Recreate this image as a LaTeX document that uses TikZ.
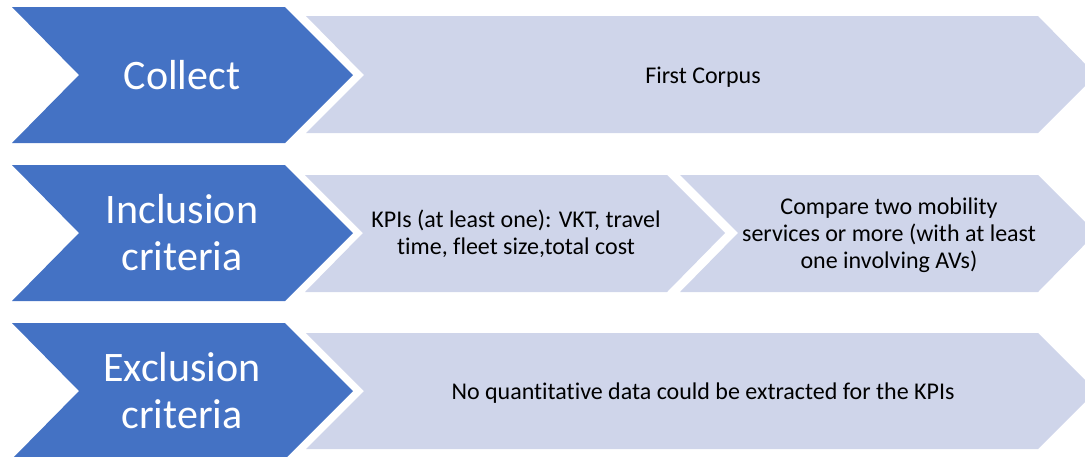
\documentclass[tikz,border=0pt]{standalone}
\usepackage{fontspec}
\setmainfont{Carlito}[Ligatures=NoCommon]
\definecolor{darkblue}{RGB}{68,114,196}
\definecolor{lightblue}{RGB}{207,213,234}
\begin{document}
\begin{tikzpicture}[x=1pt,y=-1pt,
  bluechev/.style={fill=darkblue,draw=none},
  lightchev/.style={fill=lightblue,draw=none},
  biglabel/.style={text=white,font=\fontsize{42}{47}\selectfont,align=center,inner sep=0pt},
  smalllabel/.style={text=black,font=\fontsize{24}{27}\selectfont,align=center,inner sep=0pt}]
\useasboundingbox (0,0) rectangle (1085,456);
\clip (0,0) rectangle (1085,456);
% row 1
\fill[bluechev] (12,7) -- (285,7) -- (353,75) -- (285,143) -- (12,143) -- (79,75) -- cycle;
\fill[lightchev] (306,16) -- (1038,16) -- (1096,75) -- (1038,133) -- (306,133) -- (364,75) -- cycle;
\node[biglabel] (collect) at (182,75) {Collect};
\node[smalllabel] (corpus) at (703,77) {First Corpus};
% row 2
\fill[bluechev] (12,165) -- (285,165) -- (353,233) -- (285,301) -- (12,301) -- (79,233) -- cycle;
\fill[lightchev] (305,175) -- (667,175) -- (725,233) -- (667,292) -- (305,292) -- (363,233) -- cycle;
\fill[lightchev] (680,175) -- (1038,175) -- (1096,233) -- (1038,292) -- (680,292) -- (738,233) -- cycle;
\node[biglabel] (incl) at (182,233) {Inclusion\\criteria};
\node[smalllabel] (kpis) at (516,234) {KPIs (at least one): VKT, travel\\time, fleet size,total cost};
\node[smalllabel] (compare) at (889,235) {Compare two mobility\\services or more (with at least\\one involving AVs)};
% row 3
\fill[bluechev] (12,323) -- (285,323) -- (353,391) -- (285,459) -- (12,459) -- (79,391) -- cycle;
\fill[lightchev] (306,333) -- (1038,333) -- (1096,391) -- (1038,449) -- (306,449) -- (364,391) -- cycle;
\node[biglabel] (excl) at (182,391) {Exclusion\\criteria};
\node[smalllabel] (noquant) at (703,393) {No quantitative data could be extracted for the KPIs};
\end{tikzpicture}
\end{document}
